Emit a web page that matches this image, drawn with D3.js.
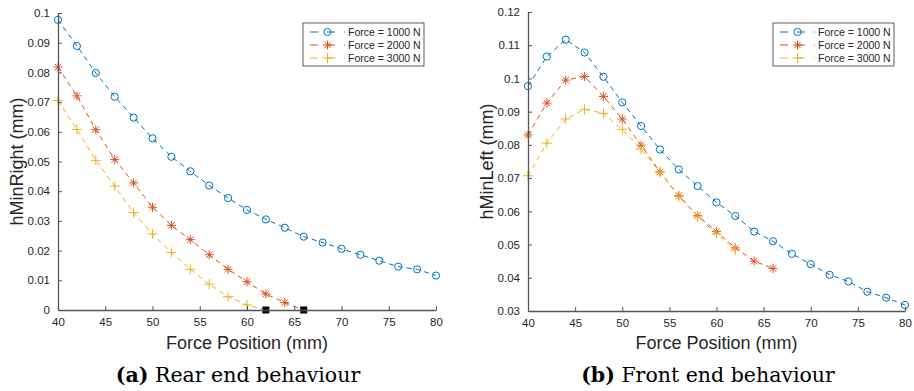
<!DOCTYPE html>
<html>
<head>
<meta charset="utf-8">
<script src="https://cdn.jsdelivr.net/npm/d3@7"></script>
<style>
  body { margin: 0; background: #fff; }
  svg { display: block; }
  text { font-family: "Liberation Sans", Arial, sans-serif; fill: #262626; }
  .caption { font-family: "DejaVu Serif", "Liberation Serif", serif; fill: #000; }
</style>
</head>
<body>
<svg id="chart" width="914" height="391"></svg>
<script>
// x positions (mm)
const positions = d3.range(40, 81, 2);

const seriesNames = ['Force = 1000 N', 'Force = 2000 N', 'Force = 3000 N'];

// (a) rear end, hMinRight (mm)
const rear1000 = [0.0977, 0.0889, 0.0798, 0.0718, 0.0648, 0.0578, 0.0516, 0.0467, 0.0419, 0.0377, 0.0337,
                  0.0305, 0.0277, 0.0247, 0.0227, 0.0206, 0.0186, 0.0166, 0.0146, 0.0137, 0.0116];
const rear2000 = [0.0818, 0.0721, 0.0607, 0.0507, 0.0428, 0.0346, 0.0285, 0.0237, 0.0186, 0.0137, 0.0095,
                  0.0054, 0.0025, 0];
const rear3000 = [0.0705, 0.0608, 0.0504, 0.0417, 0.0328, 0.0256, 0.0194, 0.0137, 0.0087, 0.0045, 0.0017, 0];

// (b) front end, hMinLeft (mm)
const front1000 = [0.0977, 0.1066, 0.1117, 0.1078, 0.1005, 0.0928, 0.0857, 0.0786, 0.0726, 0.0676, 0.0627,
                   0.0586, 0.0539, 0.0510, 0.0472, 0.0441, 0.0409, 0.0389, 0.0358, 0.0340, 0.0318];
const front2000 = [0.0830, 0.0926, 0.0995, 0.1006, 0.0946, 0.0878, 0.0799, 0.0719, 0.0647, 0.0587, 0.0539,
                   0.0490, 0.0450, 0.0428];
const front3000 = [0.0707, 0.0805, 0.0878, 0.0907, 0.0895, 0.0847, 0.0787, 0.0718, 0.0645, 0.0585, 0.0532, 0.0484];

const xTicks = [40, 45, 50, 55, 60, 65, 70, 75, 80];
const rearYTicks = d3.range(0, 0.1001, 0.01);
const frontYTicks = d3.range(0.03, 0.1201, 0.01);

const colors = ['#0072BD', '#D95319', '#EDB120'];
const markers = ['circle', 'asterisk', 'plus'];

const svg = d3.select('#chart');

function markerPath(type, s) {
    if (type === 'plus') return `M${-s},0H${s}M0,${-s}V${s}`;
    // asterisk: plus + x
    const d = s * 0.72;
    return `M${-s},0H${s}M0,${-s}V${s}M${-d},${-d}L${d},${d}M${-d},${d}L${d},${-d}`;
}

function drawMarker(g, type, color) {
    if (type === 'circle') {
        g.append('circle').attr('r', 3.6).attr('fill', 'none').attr('stroke', color).attr('stroke-width', 1);
    } else {
        g.append('path').attr('d', markerPath(type, type === 'plus' ? 5 : 4.5))
            .attr('fill', 'none').attr('stroke', color).attr('stroke-width', 1);
    }
}

function drawPanel(opt) {
    const g = svg.append('g');
    const x = d3.scaleLinear().domain([40, 80]).range(opt.xRange);
    const y = d3.scaleLinear().domain(opt.yDomain).range(opt.yRange);

    const line = d3.line().x(d => x(d.x)).y(d => y(d.y));

    opt.series.forEach((vals, i) => {
        const pts = vals.map((v, j) => ({ x: positions[j], y: v }));
        g.append('path')
            .datum(pts)
            .attr('d', line)
            .attr('fill', 'none')
            .attr('stroke', colors[i])
            .attr('stroke-width', 1)
            .attr('stroke-dasharray', '5,4');
        pts.forEach(p => {
            const m = g.append('g').attr('transform', `translate(${x(p.x)},${y(p.y)})`);
            if (p.y === 0) {
                // zero clearance points drawn as black squares
                m.append('rect').attr('x', -3.5).attr('y', -3.5).attr('width', 7).attr('height', 7).attr('fill', '#000');
            } else {
                drawMarker(m, markers[i], colors[i]);
            }
        });
    });

    // axes
    const xAxis = d3.axisBottom(x).tickValues(xTicks).tickSizeInner(-4).tickSizeOuter(0).tickPadding(8);
    const gx = g.append('g').attr('transform', `translate(0,${opt.yRange[0]})`).call(xAxis);
    const yAxis = d3.axisLeft(y).tickValues(opt.yTicks).tickSizeInner(-4).tickSizeOuter(0).tickPadding(8)
        .tickFormat(d => d3.format('~g')(+d.toFixed(2)));
    const gy = g.append('g').attr('transform', `translate(${opt.xRange[0]},0)`).call(yAxis);
    [gx, gy].forEach(a => {
        a.select('.domain').attr('stroke', '#555').attr('stroke-width', 1.3);
        a.selectAll('.tick line').attr('stroke', '#555');
        a.selectAll('.tick text').style('font-size', '11.5px').attr('fill', '#262626')
            .style('font-family', '"Liberation Sans", Arial, sans-serif');
    });

    const cx = (opt.xRange[0] + opt.xRange[1]) / 2;
    const cy = (opt.yRange[0] + opt.yRange[1]) / 2;

    g.append('text').attr('x', cx).attr('y', 349).attr('text-anchor', 'middle')
        .style('font-size', '18px').attr('fill', '#000').text('Force Position (mm)');
    g.append('text').attr('transform', `translate(${opt.yLabelX},${cy}) rotate(-90)`)
        .attr('text-anchor', 'middle').style('font-size', '18px').attr('fill', '#000').text(opt.yLabel);

    // legend
    const lg = g.append('g').attr('transform', `translate(${opt.legendX},23)`);
    lg.append('rect').attr('width', 121).attr('height', 43).attr('fill', '#fff')
        .attr('stroke', '#333').attr('stroke-width', 0.8);
    seriesNames.forEach((name, i) => {
        const row = lg.append('g').attr('transform', `translate(0,${9 + i * 13})`);
        row.append('line').attr('x1', 7).attr('x2', 42).attr('stroke', colors[i])
            .attr('stroke-dasharray', '8,9');
        const m = row.append('g').attr('transform', 'translate(24.5,0)');
        drawMarker(m, markers[i], colors[i]);
        row.append('text').attr('x', 45).attr('dy', '0.36em').style('font-size', '10.5px')
            .attr('fill', '#000').text(name);
    });

    // caption
    const cap = g.append('text').attr('class', 'caption').attr('x', opt.captionX).attr('y', 382)
        .attr('text-anchor', 'middle').style('font-size', '20.5px');
    cap.append('tspan').style('font-weight', 'bold').text(opt.captionTag);
    cap.append('tspan').text(' ' + opt.caption);
}

drawPanel({
    xRange: [58, 436], yRange: [310, 13], yDomain: [0, 0.1], yTicks: rearYTicks,
    series: [rear1000, rear2000, rear3000], yLabel: 'hMinRight (mm)', yLabelX: 23,
    legendX: 303, captionX: 238, captionTag: '(a)', caption: 'Rear end behaviour'
});

drawPanel({
    xRange: [528, 905], yRange: [311, 12], yDomain: [0.03, 0.12], yTicks: frontYTicks,
    series: [front1000, front2000, front3000], yLabel: 'hMinLeft (mm)', yLabelX: 493,
    legendX: 773, captionX: 708, captionTag: '(b)', caption: 'Front end behaviour'
});
</script>
</body>
</html>
